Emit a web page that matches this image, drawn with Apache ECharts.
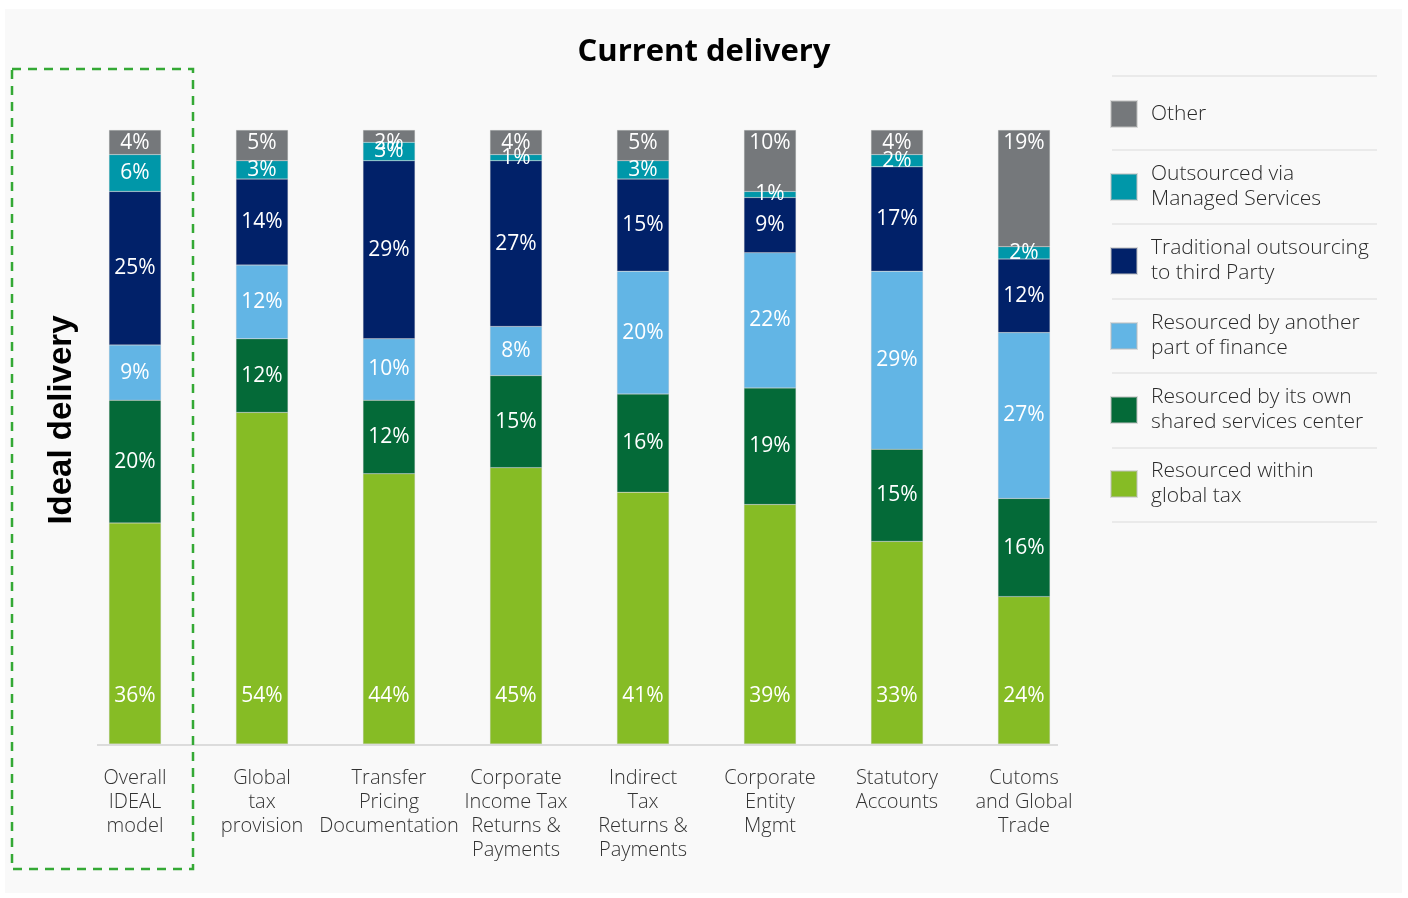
<!DOCTYPE html>
<html><head><meta charset="utf-8">
<script src="https://cdn.jsdelivr.net/npm/echarts@6/dist/echarts.min.js"></script>
<style>html,body{margin:0;padding:0;background:#fff}#c{width:1408px;height:898px}</style>
</head><body><div id="c"></div>
<script>
const categories = ['Overall\nIDEAL\nmodel','Global\ntax\nprovision','Transfer\nPricing\nDocumentation','Corporate\nIncome Tax\nReturns &\nPayments','Indirect\nTax\nReturns &\nPayments','Corporate\nEntity\nMgmt','Statutory\nAccounts','Cutoms\nand Global\nTrade'];
const seriesNames = ['Resourced within global tax','Resourced by its own shared services center','Resourced by another part of finance','Traditional outsourcing to third Party','Outsourced via Managed Services','Other'];
const legendLabels = ['Resourced within\nglobal tax','Resourced by its own\nshared services center','Resourced by another\npart of finance','Traditional outsourcing\nto third Party','Outsourced via\nManaged Services','Other'];
const withinTax   = [36,54,44,45,41,39,33,24];
const sharedSvc   = [20,12,12,15,16,19,15,16];
const otherFin    = [9,12,10,8,20,22,29,27];
const thirdParty  = [25,14,29,27,15,9,17,12];
const managedSvc  = [6,3,3,1,3,1,2,2];
const otherVals   = [4,5,2,4,5,10,4,19];
const colors = ['#86bc25','#046a38','#62b5e5','#012169','#0097a9','#75787b'];
const allValues = [withinTax, sharedSvc, otherFin, thirdParty, managedSvc, otherVals];

const chart = echarts.init(document.getElementById('c'));
const font = '"Open Sans", "Noto Sans", sans-serif';

const series = seriesNames.map((n,i)=>({
  name:n, type:'bar', stack:'all', barWidth:52, data:allValues[i],
  itemStyle:{color:colors[i], borderColor:'rgba(190,190,190,0.5)', borderWidth:0.5},
  label:{show:true,
    position: i===0 ? 'insideBottom' : (i===5 ? 'insideTop' : 'inside'),
    distance: i===0 ? 37 : (i===5 ? 3 : 5),
    formatter:'{c}%', color:'#fff', fontFamily:font, fontSize:21, fontWeight:'normal'},
  emphasis:{disabled:true}
}));

const centers = [113,187,261,336,410,484];
const legends = [];
for (let k=0;k<6;k++){
  const idx = 5-k;
  const lines = legendLabels[idx].split('\n').length;
  legends.push({
    data:[seriesNames[idx]], left:1110, top: centers[k] - Math.max(13, lines*25/2),
    orient:'vertical', icon:'rect', itemWidth:26, itemHeight:26, padding:0,
    selectedMode:false,
    formatter:()=>legendLabels[idx],
    textStyle:{fontFamily:font, fontSize:21, fontWeight:300, color:'#2a2a2a', lineHeight:25, padding:[0,0,0,9]}
  });
}

const sepY = [76,150,224,299,373,448,522];
const graphics = [
  {type:'rect', z:-10, shape:{x:5,y:9,width:1397,height:884}, style:{fill:'#f9f9f9'}, silent:true},
  {type:'rect', z:10, shape:{x:12,y:69,width:181,height:800}, style:{fill:null, stroke:'#34a935', lineWidth:2.5, lineDash:[9,7]}, silent:true},
  {type:'line', z:1, shape:{x1:97,y1:745,x2:1058,y2:745}, style:{stroke:'#dcdcdc', lineWidth:2}, silent:true},
  {type:'text', z:10, x:62, y:420, rotation:Math.PI/2, style:{text:'Ideal delivery', fill:'#000', font:'bold 33px "Liberation Sans", Arial, sans-serif', align:'center', verticalAlign:'middle'}, silent:true}
].concat(sepY.map(y=>({type:'line', shape:{x1:1112,y1:y,x2:1377,y2:y}, style:{stroke:'#e4e4e4', lineWidth:1.5}, silent:true})));

chart.setOption({
  backgroundColor:'#ffffff',
  animation:false,
  title:{text:'Current delivery', left:'center', top:32, textStyle:{fontFamily:font, fontSize:31, fontWeight:700, color:'#000'}},
  grid:{left:71.5, right:320.5, top:130, bottom:154},
  xAxis:{type:'category', data:categories, axisLine:{show:false}, axisTick:{show:false},
    axisLabel:{interval:0, margin:22, fontFamily:font, fontSize:20, fontWeight:300, color:'#333', lineHeight:24}},
  yAxis:{type:'value', min:0, max:100, show:false},
  legend:legends,
  graphic:graphics,
  series:series
});
</script></body></html>
